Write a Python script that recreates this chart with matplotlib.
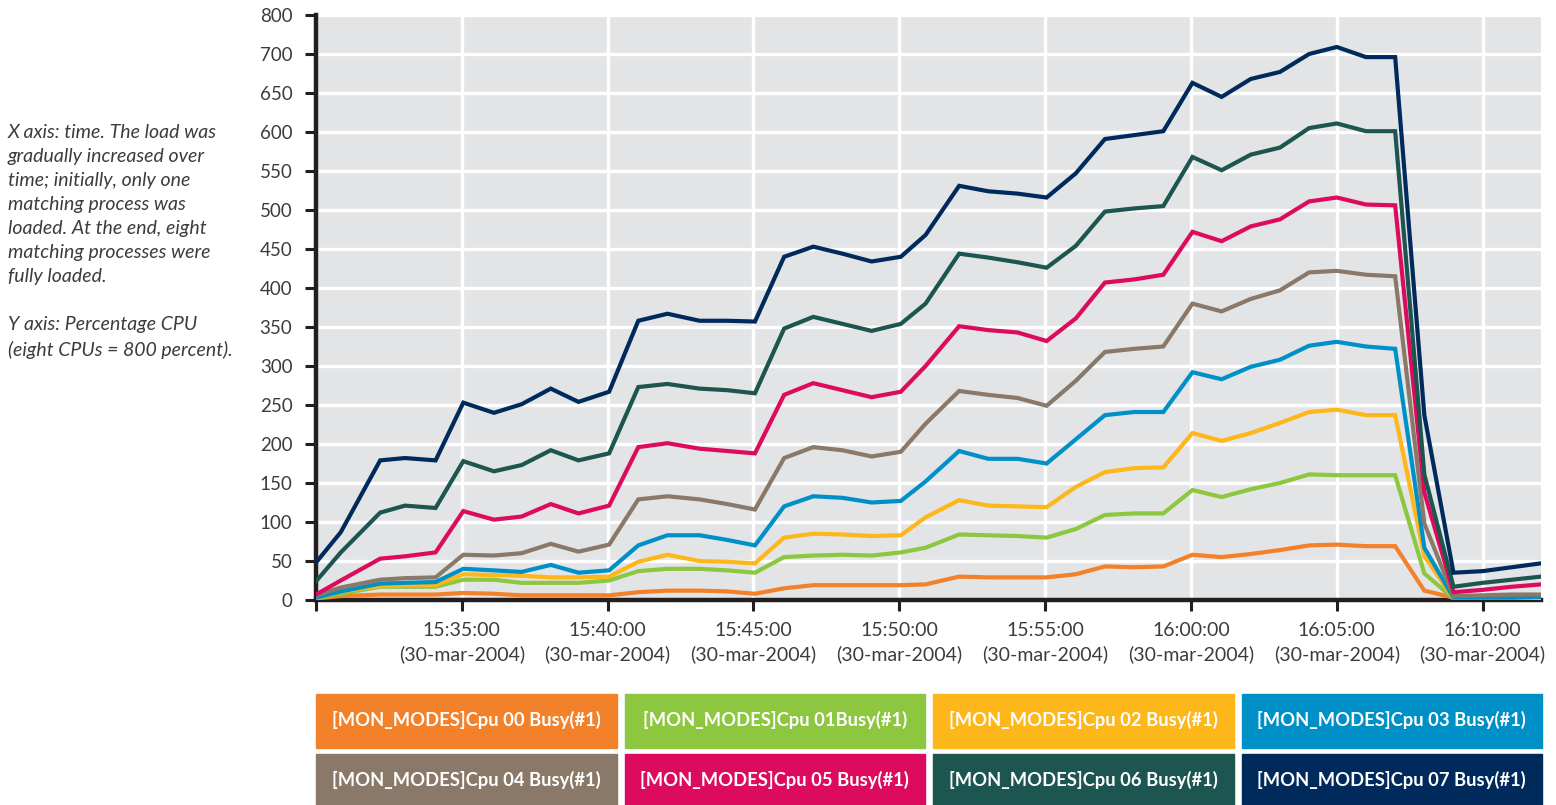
import numpy as np
import pandas as pd
import matplotlib
matplotlib.use("Agg")
import matplotlib.pyplot as plt
import matplotlib.dates as mdates
from matplotlib.patches import Rectangle

plt.rcParams['font.family'] = ['Lato', 'DejaVu Sans']

# sample times (30-mar-2004)
times = ["15:30:00", "15:30:51", "15:32:12", "15:33:03", "15:34:06", "15:35:03",
         "15:36:06", "15:37:03", "15:38:03", "15:39:00", "15:40:03", "15:41:03",
         "15:42:03", "15:43:09", "15:44:06", "15:45:03", "15:46:03", "15:47:03",
         "15:48:03", "15:49:03", "15:50:03", "15:50:54", "15:52:03", "15:53:03",
         "15:54:03", "15:55:03", "15:56:03", "15:57:03", "15:58:03", "15:59:03",
         "16:00:03", "16:01:03", "16:02:03", "16:03:03", "16:04:03", "16:05:00",
         "16:06:00", "16:07:00", "16:08:00", "16:09:00", "16:10:00", "16:11:00",
         "16:12:00"]

cpu00 = [2, 5, 7, 7, 7, 9, 8, 6, 6, 6, 6, 10, 12, 12, 11, 8, 15, 19, 19, 19, 19,
         20, 30, 29, 29, 29, 33, 43, 42, 43, 58, 55, 59, 64, 70, 71, 69, 69, 12, 3,
         2, 2, 2]
cpu01 = [2, 8, 17, 17, 17, 26, 26, 22, 22, 22, 25, 37, 40, 40, 38, 35, 55, 57, 58,
         57, 61, 67, 84, 83, 82, 80, 91, 109, 111, 111, 141, 132, 142, 150, 161,
         160, 160, 160, 34, 2, 1, 1, 1]
cpu02 = [3, 11, 18, 19, 19, 33, 32, 31, 29, 29, 30, 49, 58, 50, 49, 47, 80, 85, 84,
         82, 83, 106, 128, 121, 120, 119, 145, 164, 169, 170, 214, 204, 214, 227,
         241, 244, 237, 237, 56, 2, 2, 2, 2]
cpu03 = [3, 11, 21, 22, 23, 40, 38, 36, 45, 35, 38, 70, 83, 83, 77, 70, 120, 133,
         131, 125, 127, 152, 191, 181, 181, 175, 206, 237, 241, 241, 292, 283, 299,
         308, 326, 331, 325, 322, 67, 3, 3, 3, 4]
cpu04 = [6, 16, 26, 28, 29, 58, 57, 60, 72, 62, 71, 129, 133, 129, 123, 116, 182,
         196, 192, 184, 190, 226, 268, 263, 259, 249, 281, 318, 322, 325, 380, 370,
         386, 397, 420, 422, 417, 415, 98, 5, 6, 7, 7]
cpu05 = [7, 25, 53, 56, 61, 114, 103, 107, 123, 111, 121, 196, 201, 194, 191, 188,
         263, 278, 269, 260, 267, 300, 351, 346, 343, 332, 361, 407, 411, 417, 472,
         460, 479, 488, 511, 516, 507, 506, 138, 10, 13, 17, 20]
cpu06 = [24, 61, 112, 121, 118, 178, 165, 173, 192, 179, 188, 273, 277, 271, 269,
         265, 348, 363, 354, 345, 354, 380, 444, 439, 433, 426, 454, 498, 502, 505,
         568, 551, 571, 580, 605, 611, 601, 601, 161, 17, 22, 26, 30]
cpu07 = [48, 87, 179, 182, 179, 253, 240, 251, 271, 254, 267, 358, 367, 358, 358,
         357, 440, 453, 444, 434, 440, 468, 531, 524, 521, 516, 547, 591, 596, 601,
         663, 645, 668, 677, 700, 709, 696, 696, 237, 35, 37, 42, 47]

names = ["[MON_MODES]Cpu 00 Busy(#1)", "[MON_MODES]Cpu 01Busy(#1)",
         "[MON_MODES]Cpu 02 Busy(#1)", "[MON_MODES]Cpu 03 Busy(#1)",
         "[MON_MODES]Cpu 04 Busy(#1)", "[MON_MODES]Cpu 05 Busy(#1)",
         "[MON_MODES]Cpu 06 Busy(#1)", "[MON_MODES]Cpu 07 Busy(#1)"]
colors = ["#f2812a", "#8dc63f", "#fdb71a", "#0090c8",
          "#8a7968", "#dc0b5e", "#1d5550", "#012a5c"]
series = [cpu00, cpu01, cpu02, cpu03, cpu04, cpu05, cpu06, cpu07]

yticks = list(range(0, 751, 50))
ylabels = [str(v) for v in range(0, 701, 50)] + ["800"]

tick_times = ["15:30", "15:35", "15:40", "15:45", "15:50", "15:55", "16:00", "16:05", "16:10"]

t = pd.to_datetime(["2004-03-30 " + s for s in times])
tt = pd.to_datetime(["2004-03-30 " + s for s in tick_times])

fig = plt.figure(figsize=(15.56, 8.05), dpi=100)
ax = fig.add_axes([316/1556, 1 - 600/805, 1225/1556, 585/805])
ax.set_facecolor("#e3e4e6")

for vals, c in zip(series, colors):
    ax.plot(t, vals, color=c, lw=3.0, solid_joinstyle="miter", zorder=3)

ax.set_xlim(pd.Timestamp("2004-03-30 15:30:00"), pd.Timestamp("2004-03-30 16:12:00"))
ax.set_ylim(0, 750)
ax.set_yticks(yticks)
ax.set_yticklabels(ylabels)
ax.set_xticks(tt)
ax.set_xticklabels([""] + [s + ":00\n(30-mar-2004)" for s in tick_times[1:]],
                   linespacing=1.38)

ax.grid(True, color="white", lw=2.4, zorder=1)
ax.set_axisbelow(True)
for side in ["top", "right"]:
    ax.spines[side].set_visible(False)
for side in ["left", "bottom"]:
    ax.spines[side].set_color("#231f20")
    ax.spines[side].set_linewidth(3.2)
ax.tick_params(axis="both", colors="#231f20", length=8, width=2.2,
               labelcolor="#3c3c3c", labelsize=14)
ax.tick_params(axis="x", pad=8)
ax.tick_params(axis="y", pad=9, labelsize=13.5)

# side note on the left
note = ("X axis: time. The load was\ngradually increased over\ntime; initially, only one\n"
        "matching process was\nloaded. At the end, eight\nmatching processes were\n"
        "fully loaded.\n\nY axis: Percentage CPU\n(eight CPUs = 800 percent).")
fig.text(8/1556, 1 - 124/805, note, style="italic", fontsize=14, color="#3c3c3c",
         va="top", ha="left", linespacing=1.5)

# legend boxes, two rows of four
bw, gap = 300.5, 8
rows = [(694, 748), (754, 808)]
for i, (name, c) in enumerate(zip(names, colors)):
    r, col = divmod(i, 4)
    x0 = 316 + col * (bw + gap)
    y0, y1 = rows[r]
    fig.patches.append(Rectangle((x0/1556, 1 - y1/805), bw/1556, (y1 - y0)/805,
                                 transform=fig.transFigure, color=c))
    fig.text((x0 + bw/2)/1556, 1 - ((y0 + y1)/2 - 1)/805, name, color="white",
             fontsize=13.2, fontweight="bold", ha="center", va="center")

fig.savefig("out.png", dpi=100)
